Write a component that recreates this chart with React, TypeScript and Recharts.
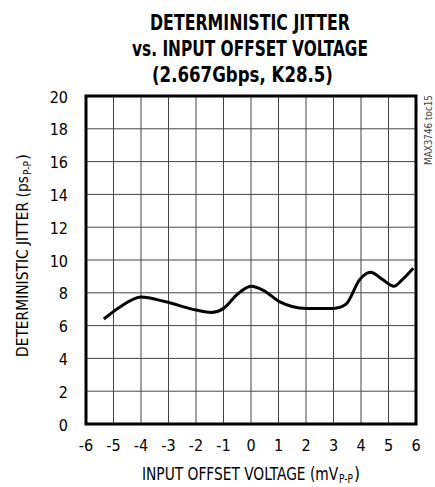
import React, { useLayoutEffect, useRef, useState } from 'react';
import {
  LineChart,
  Line,
  XAxis,
  YAxis,
  CartesianGrid,
  ReferenceArea
} from 'recharts';

// values
const offsetVoltage = [-5.35, -4.75, -4.0, -3.1, -2.0, -1.45, -1.0, -0.5, 0.0, 0.45, 1.05, 2.0, 3.0, 3.45, 3.95, 4.35, 4.75, 5.2, 5.5, 5.9];
const jitter = [6.4, 7.15, 7.75, 7.45, 6.95, 6.8, 7.05, 7.9, 8.4, 8.15, 7.45, 7.05, 7.05, 7.3, 8.8, 9.25, 8.85, 8.4, 8.8, 9.5];

const xTicks = [-6, -5, -4, -3, -2, -1, 0, 1, 2, 3, 4, 5, 6];
const yTicks = [0, 2, 4, 6, 8, 10, 12, 14, 16, 18, 20];

const titleLines = ['DETERMINISTIC JITTER', 'vs. INPUT OFFSET VOLTAGE', '(2.667Gbps, K28.5)'];

const NARROW = "'Liberation Sans Narrow', 'DejaVu Sans Condensed', sans-serif";

const chartData = offsetVoltage.map((v, i) => ({ v, dj: jitter[i] }));

// text squeezed horizontally to a given width (the original uses a narrow face)
const FitText: React.FC<{
  x: number;
  y: number;
  width: number;
  fontSize: number;
  rotate?: boolean;
  bold?: boolean;
  fill?: string;
  children: React.ReactNode;
}> = ({ x, y, width, fontSize, rotate, bold, fill = '#000', children }) => {
  const ref = useRef<SVGTextElement>(null);
  const [sx, setSx] = useState(0.8);
  useLayoutEffect(() => {
    const w = ref.current ? ref.current.getComputedTextLength() : 0;
    if (w > 0) setSx(width / w);
  }, [width]);
  const tf = rotate
    ? `translate(${x},${y}) rotate(-90) scale(${sx},1)`
    : `translate(${x},${y}) scale(${sx},1)`;
  return (
    <text
      ref={ref}
      x={0}
      y={0}
      transform={tf}
      fontFamily={NARROW}
      fontWeight={bold ? 'bold' : 'normal'}
      fontSize={fontSize}
      fill={fill}
    >
      {children}
    </text>
  );
};

const Overlay: React.FC = () => (
  <svg
    width={435}
    height={487}
    style={{ position: 'absolute', left: 0, top: 0, pointerEvents: 'none' }}
  >
    {/* title */}
    <FitText x={150} y={30} width={200} fontSize={22} bold>{titleLines[0]}</FitText>
    <FitText x={132} y={56} width={236} fontSize={22} bold>{titleLines[1]}</FitText>
    <FitText x={152} y={82} width={181} fontSize={22} bold>{titleLines[2]}</FitText>

    {/* x axis label */}
    <FitText x={142} y={480} width={196} fontSize={17}>INPUT OFFSET VOLTAGE (mV</FitText>
    <FitText x={339} y={483} width={14} fontSize={12}>P-P</FitText>
    <FitText x={354} y={480} width={6} fontSize={17}>)</FitText>

    {/* y axis label */}
    <FitText x={28} y={357} width={181} fontSize={15} rotate>DETERMINISTIC JITTER (ps</FitText>
    <FitText x={31} y={175} width={14} fontSize={11} rotate>P-P</FitText>
    <FitText x={28} y={160} width={6} fontSize={15} rotate>)</FitText>

    {/* figure id */}
    <FitText x={432} y={165} width={70} fontSize={10} fill="#444" rotate>MAX3746 toc15</FitText>
  </svg>
);

export default function App() {
  return (
    <div style={{ position: 'absolute', left: 0, top: 0, width: 435, height: 487, background: '#fff' }}>
      <LineChart
        width={435}
        height={487}
        data={chartData}
        margin={{ top: 96, right: 19, bottom: 0, left: 0 }}
      >
        <CartesianGrid stroke="#444" strokeWidth={1} horizontal vertical />
        <XAxis
          dataKey="v"
          type="number"
          domain={[-6, 6]}
          ticks={xTicks}
          height={63}
          axisLine={false}
          tickLine={false}
          tickSize={0}
          tickMargin={16}
          interval={0}
          tick={{ fill: '#000', fontSize: 16, fontFamily: NARROW }}
        />
        <YAxis
          type="number"
          domain={[0, 20]}
          ticks={yTicks}
          width={86}
          axisLine={false}
          tickLine={false}
          tickSize={0}
          tickMargin={18}
          interval={0}
          tick={{ fill: '#000', fontSize: 16, fontFamily: NARROW, dy: 1 }}
        />
        <ReferenceArea
          x1={-6}
          x2={6}
          y1={0}
          y2={20}
          fill="none"
          stroke="#000"
          strokeWidth={3}
          ifOverflow="visible"
        />
        <Line
          type="monotone"
          dataKey="dj"
          stroke="#000"
          strokeWidth={3}
          dot={false}
          isAnimationActive={false}
        />
      </LineChart>
      <Overlay />
    </div>
  );
}
